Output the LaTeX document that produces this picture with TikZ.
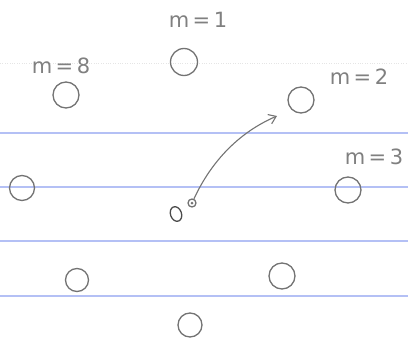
\documentclass[tikz,border=0pt]{standalone}
\usepackage{fontspec}
\setsansfont{DejaVu Sans}
\usetikzlibrary{arrows.meta,shapes.geometric}
\definecolor{paperline}{RGB}{180,192,245}
\begin{document}
\begin{tikzpicture}[x=1pt, y=-1pt,
  pencil/.style={draw=black!55, line width=1.3pt},
  ring/.style={pencil, circle, inner sep=0pt, minimum size=#1},
  ring/.default=24pt,
  tag/.style={text=black!50, font=\sffamily\fontsize{21}{23}\selectfont, inner sep=0pt},
  ruling/.style={paperline, line width=1.5pt}]
  \useasboundingbox (0,0) rectangle (408,348);
  % ruled paper
  \foreach \yy in {133,187,241,296}
    \draw[ruling] (0,\yy) -- (408,\yy);
  \draw[black!10, dotted] (0,63) -- (408,63);
  % the eight positions
  \node[ring=27pt] (m1) at (184,62) {};
  \node[ring=26pt] (m2) at (301,100) {};
  \node[ring=26pt] (m3) at (348,190) {};
  \node[ring=26pt] (m4) at (282,276) {};
  \node[ring=24pt] (m5) at (190,325) {};
  \node[ring=23pt] (m6) at (77,280) {};
  \node[ring=25pt] (m7) at (22,188) {};
  \node[ring=26pt] (m8) at (66,95) {};
  \node[tag] (t1) at (198,20) {m\,=\,1};
  \node[tag] (t2) at (359,77) {m\,=\,2};
  \node[tag] (t3) at (374,157) {m\,=\,3};
  \node[tag] (t8) at (61,66) {m\,=\,8};
  % centre
  \node[pencil, draw=black!70, ellipse, minimum width=11pt, minimum height=15pt, inner sep=0pt, rotate=20] (mid) at (176,214) {};
  \node[pencil, circle, minimum size=8pt, inner sep=0pt] (src) at (192,203) {};
  \fill[black!55] (src) circle (1.5pt);
  \coordinate (tip) at (277,116);
  \draw[pencil, line width=1.1pt, -{Straight Barb[length=7pt, width=10pt]}] (src) .. controls (212,160) and (240,132) .. (tip);
\end{tikzpicture}
\end{document}
